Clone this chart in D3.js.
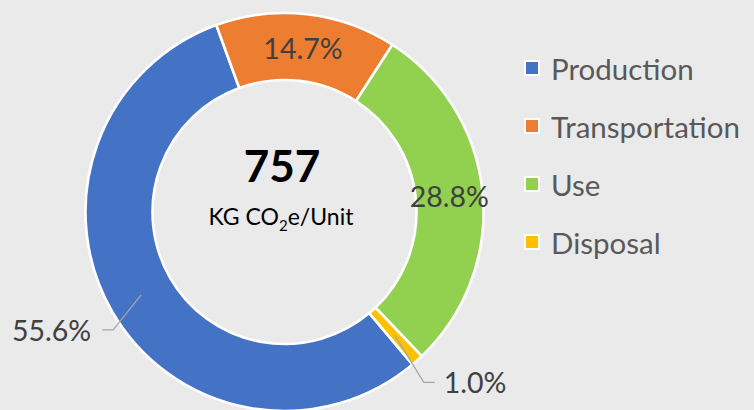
<!DOCTYPE html>
<html><head><meta charset="utf-8">
<script src="https://cdn.jsdelivr.net/npm/d3@7"></script>
<style>html,body{margin:0;padding:0;background:#eaeaea;}svg{display:block;}</style>
</head><body>
<svg id="c" width="754" height="410"></svg>
<script>
const categories = ["Production", "Transportation", "Use", "Disposal"];
const values = [55.6, 14.7, 28.8, 1.0];
const labels = ["55.6%", "14.7%", "28.8%", "1.0%"];
const colors = ["#4472c4", "#ed7d31", "#92d050", "#ffc000"];
const totalValue = "757";
const unitMain = "KG CO", unitSub = "2", unitTail = "e/Unit";

const W = 754, H = 410;
const cx = 284.5, cy = 212, rOuter = 199, rInner = 132;
const font = "Lato, 'Open Sans', sans-serif";

const svg = d3.select("#c");
svg.append("rect").attr("width", W).attr("height", H).attr("fill", "#eaeaea");

const startA = 140 * Math.PI / 180;
const pie = d3.pie().sort(null).value(d => d)
  .startAngle(startA).endAngle(startA + 2 * Math.PI);
const arcs = pie(values);
const arc = d3.arc().innerRadius(rInner).outerRadius(rOuter);
const labelArc = d3.arc().innerRadius((rInner + rOuter) / 2).outerRadius((rInner + rOuter) / 2);

const g = svg.append("g").attr("transform", `translate(${cx},${cy})`);
g.selectAll("path.slice").data(arcs).join("path")
  .attr("class", "slice")
  .attr("d", arc)
  .attr("fill", (d, i) => colors[i])
  .attr("stroke", "#ffffff")
  .attr("stroke-width", 2.6)
  .attr("stroke-linejoin", "round");

// labels
const lblColor = "#404040";
const lblSize = 28.5;
arcs.forEach((d, i) => {
  const [x, y] = labelArc.centroid(d);
  if (i === 1 || i === 2) {
    g.append("text").attr("x", x).attr("y", y)
      .attr("text-anchor", "middle").attr("dominant-baseline", "central")
      .attr("font-family", font).attr("font-size", lblSize).attr("fill", lblColor)
      .text(labels[i]);
  } else if (i === 0) {
    const p1 = [x - 28, y + 35], p2 = [p1[0] - 11, p1[1]];
    g.append("polyline").attr("points", [[x, y], p1, p2].map(p => p.join(",")).join(" "))
      .attr("fill", "none").attr("stroke", "#a6a6a6").attr("stroke-width", 1.3);
    g.append("text").attr("x", p2[0] - 11).attr("y", p2[1])
      .attr("text-anchor", "end").attr("dominant-baseline", "central")
      .attr("font-family", font).attr("font-size", lblSize).attr("fill", lblColor)
      .text(labels[i]);
  } else {
    const p1 = [x + 29, y + 47], p2 = [p1[0] + 11, p1[1]];
    g.append("polyline").attr("points", [[x, y], p1, p2].map(p => p.join(",")).join(" "))
      .attr("fill", "none").attr("stroke", "#a6a6a6").attr("stroke-width", 1.3);
    g.append("text").attr("x", p2[0] + 9).attr("y", p2[1])
      .attr("text-anchor", "start").attr("dominant-baseline", "central")
      .attr("font-family", font).attr("font-size", lblSize).attr("fill", lblColor)
      .text(labels[i]);
  }
});

// center text
svg.append("text").attr("x", 282).attr("y", 182)
  .attr("text-anchor", "middle").attr("font-family", font)
  .attr("font-weight", "bold").attr("font-size", 44).attr("fill", "#000")
  .text(totalValue);
const t = svg.append("text").attr("x", 281).attr("y", 225)
  .attr("text-anchor", "middle").attr("font-family", font)
  .attr("font-size", 23).attr("fill", "#000");
t.append("tspan").text(unitMain);
t.append("tspan").attr("font-size", 15).attr("dy", 6).text(unitSub);
t.append("tspan").attr("dy", -6).text(unitTail);

// legend
const lg = svg.append("g");
categories.forEach((c, i) => {
  const y = 68 + i * 58;
  lg.append("rect").attr("x", 525).attr("y", y - 7).attr("width", 14).attr("height", 14)
    .attr("fill", colors[i]).attr("stroke", "#ffffff").attr("stroke-width", 2);
  lg.append("text").attr("x", 551).attr("y", y)
    .attr("dominant-baseline", "central")
    .attr("font-family", font).attr("font-size", 29.5).attr("fill", "#595959")
    .text(c);
});
</script>
</body></html>
